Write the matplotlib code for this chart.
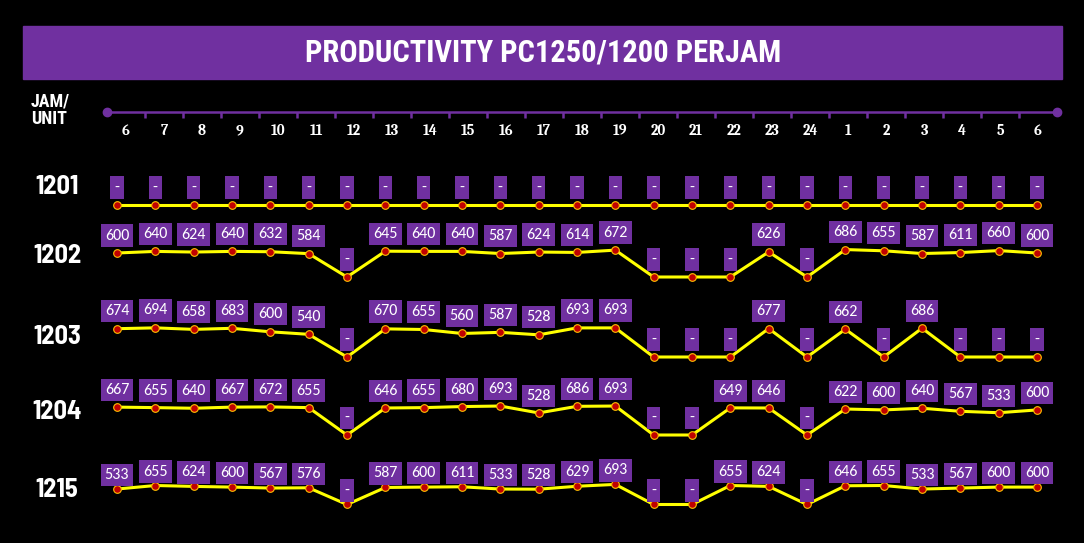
import matplotlib
matplotlib.use("Agg")
import matplotlib.pyplot as plt
from matplotlib.patches import Rectangle

# data
title = "PRODUCTIVITY PC1250/1200 PERJAM"
hours = ['6', '7', '8', '9', '10', '11', '12', '13', '14', '15', '16', '17', '18',
         '19', '20', '21', '22', '23', '24', '1', '2', '3', '4', '5', '6']
units = ['1201', '1202', '1203', '1204', '1215']

u1201 = [0, 0, 0, 0, 0, 0, 0, 0, 0, 0, 0, 0, 0, 0, 0, 0, 0, 0, 0, 0, 0, 0, 0, 0, 0]
u1202 = [600, 640, 624, 640, 632, 584, 0, 645, 640, 640, 587, 624, 614, 672,
         0, 0, 0, 626, 0, 686, 655, 587, 611, 660, 600]
u1203 = [674, 694, 658, 683, 600, 540, 0, 670, 655, 560, 587, 528, 693, 693,
         0, 0, 0, 677, 0, 662, 0, 686, 0, 0, 0]
u1204 = [667, 655, 640, 667, 672, 655, 0, 646, 655, 680, 693, 528, 686, 693,
         0, 0, 649, 646, 0, 622, 600, 640, 567, 533, 600]
u1215 = [533, 655, 624, 600, 567, 576, 0, 587, 600, 611, 533, 528, 629, 693,
         0, 0, 655, 624, 0, 646, 655, 533, 567, 600, 600]
series = [u1201, u1202, u1203, u1204, u1215]

# layout (pixels from top): zero line, px per unit, label centre, label gap
W, H = 1084, 543
rows = [
    dict(y0=205, k=0.040, ylab=187, off=10.5),
    dict(y0=277, k=0.040, ylab=256, off=10.5),
    dict(y0=357, k=0.042, ylab=337, off=10.5),
    dict(y0=435, k=0.0418, ylab=412, off=10.0),
    dict(y0=504.5, k=0.029, ylab=490, off=7.0),
]

PURPLE = '#7030A0'
TITLE_FONT = ['Roboto Condensed', 'Liberation Sans Narrow', 'DejaVu Sans']
UNIT_FONT = ['Barlow Semi Condensed', 'Barlow', 'Roboto Condensed', 'DejaVu Sans']
LABEL_FONT = ['Carlito', 'Lato', 'DejaVu Sans']
HOUR_FONT = ['Caladea', 'Liberation Serif', 'DejaVu Serif']


def px_rect(x0, y0, x1, y1):
    return [x0 / W, 1 - y1 / H, (x1 - x0) / W, (y1 - y0) / H]


def main():
    fig = plt.figure(figsize=(W / 100, H / 100), dpi=100, facecolor='black')

    # title bar
    fig.patches.append(Rectangle((23 / W, 1 - 79 / H), (1062 - 23) / W, (79 - 26) / H,
                                 transform=fig.transFigure, color=PURPLE, zorder=0))
    fig.text(543 / W, 1 - 52.5 / H, title, ha='center', va='center', color='white',
             fontsize=22, fontweight='bold', family=TITLE_FONT)

    fig.text(31 / W, 1 - 101.5 / H, "JAM/", ha='left', va='center', color='white',
             fontsize=13, fontweight='bold', family=TITLE_FONT)
    fig.text(31 / W, 1 - 119.5 / H, "UNIT", ha='left', va='center', color='white',
             fontsize=13, fontweight='bold', family=TITLE_FONT)

    # hour axis
    hx = fig.add_axes(px_rect(107, 104, 1057, 120))
    hx.set_xlim(0, len(hours))
    hx.set_ylim(16, 0)
    hx.axis('off')
    hx.plot([0, len(hours)], [8, 8], color=PURPLE, lw=1.8, clip_on=False)
    hx.vlines(range(1, len(hours)), 8, 13.5, color=PURPLE, lw=1.8)
    hx.plot([0, len(hours)], [8, 8], 'o', ms=6, color=PURPLE, clip_on=False)
    for i, h in enumerate(hours):
        hx.text(i + 0.5, 27, h, ha='center', va='center', color='white',
                fontsize=10.5, fontweight='bold', family=HOUR_FONT, clip_on=False)

    x = list(range(len(hours)))
    for name, vals, r in zip(units, series, rows):
        lo, hi = -100, 800
        top = r['y0'] - hi * r['k']
        bot = r['y0'] - lo * r['k']
        ax = fig.add_axes(px_rect(97.8, top, 1056.2, bot))
        ax.set_xlim(-0.5, len(hours) - 0.5)
        ax.set_ylim(lo, hi)
        ax.axis('off')
        ax.patch.set_alpha(0)
        ax.plot(x, vals, color='#FFFF00', lw=2.2, marker='o', ms=5.5,
                mfc='#C00000', mec='#FFC000', mew=0.8, clip_on=False, zorder=3)
        for xi, v in zip(x, vals):
            ax.annotate(str(v) if v else '-', (xi, v), xytext=(0, r['off']),
                        textcoords='offset pixels', ha='center', va='bottom',
                        color='white', fontsize=11.5, family=LABEL_FONT,
                        bbox=dict(boxstyle='square,pad=0.26', fc=PURPLE, ec='none'),
                        zorder=4, annotation_clip=False)

        fig.text(57 / W, 1 - r['ylab'] / H, name, ha='center', va='center', color='white',
                 fontsize=19, fontweight='bold', family=UNIT_FONT)

    fig.savefig('out.png', dpi=100, facecolor='black')


if __name__ == '__main__':
    main()
